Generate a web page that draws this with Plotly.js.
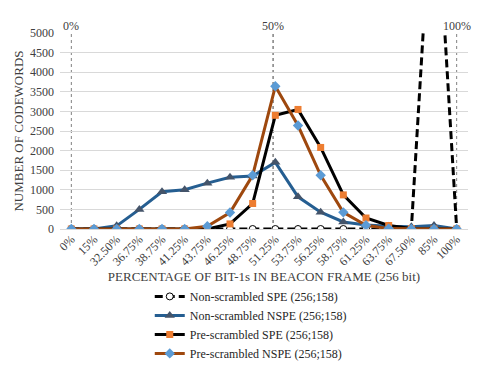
<!DOCTYPE html>
<html>
<head>
<meta charset="utf-8">
<script src="https://cdn.plot.ly/plotly-3.0.1.min.js"></script>
<style>
  body { margin: 0; background: #fff; }
  #chart { width: 485px; height: 384px; }
  #chart svg text { font-family: 'Liberation Serif', 'Times New Roman', 'DejaVu Serif', serif !important; }
</style>
</head>
<body>
<div id="chart"></div>
<script>
var categories = ['0%','15%','32.50%','36.75%','38.75%','41.25%','43.75%','46.25%','48.75%',
                  '51.25%','53.75%','56.25%','58.75%','61.25%','63.75%','67.50%','85%','100%'];

var nonScrSPE  = [0,0,0,0,0,0,0,0,0,0,0,0,0,0,0,0,9600,0];
var nonScrNSPE = [0,0,80,500,950,1000,1170,1320,1350,1700,820,430,180,100,70,55,90,0];
var preScrSPE  = [0,0,0,0,0,0,0,130,650,2900,3050,2080,870,280,90,10,0,0];
var preScrNSPE = [0,0,0,0,0,0,70,420,1370,3640,2640,1370,425,95,10,0,0,0];

var refLines = [{pos: 0, label: '0%'}, {pos: 8.9, label: '50%'}, {pos: 17, label: '100%'}];

var serif = 'Liberation Serif, Times New Roman, serif';

var data = [
  {
    x: categories, y: nonScrSPE, type: 'scatter', mode: 'lines+markers',
    name: 'Non-scrambled SPE (256;158)',
    line: {color: '#000000', width: 3, dash: '8px,4px'},
    marker: {symbol: 'circle', size: 7, color: '#ffffff', line: {color: '#000000', width: 1}}
  },
  {
    x: categories, y: nonScrNSPE, type: 'scatter', mode: 'lines+markers',
    name: 'Non-scrambled NSPE (256;158)',
    line: {color: '#255e91', width: 3},
    marker: {symbol: 'triangle-up', size: 9, color: '#44546a'}
  },
  {
    x: categories, y: preScrSPE, type: 'scatter', mode: 'lines+markers',
    name: 'Pre-scrambled SPE (256;158)',
    line: {color: '#000000', width: 3},
    marker: {symbol: 'square', size: 7, color: '#ed7d31'}
  },
  {
    x: categories, y: preScrNSPE, type: 'scatter', mode: 'lines+markers',
    name: 'Pre-scrambled NSPE (256;158)',
    line: {color: '#9e480e', width: 3},
    marker: {symbol: 'diamond', size: 8, color: '#5b9bd5'}
  }
];

var shapes = refLines.map(function (r) {
  return {
    type: 'line', xref: 'x', yref: 'y', x0: r.pos, x1: r.pos, y0: 0, y1: 5000,
    line: {color: r.pos === 8.9 ? '#404040' : '#808080', width: 1, dash: 'dot'},
    layer: 'below'
  };
});

var annotations = refLines.map(function (r) {
  return {
    xref: 'x', yref: 'paper', x: r.pos, y: 1, yanchor: 'bottom', yshift: -2,
    text: r.label, showarrow: false,
    font: {family: serif, size: 12, color: '#404040'}
  };
});

var layout = {
  width: 485, height: 384,
  margin: {l: 60, r: 17, t: 33, b: 155},
  paper_bgcolor: '#ffffff', plot_bgcolor: '#ffffff',
  font: {family: serif, color: '#404040'},
  showlegend: true,
  legend: {
    x: 0.22, y: -0.27, xanchor: 'left', yanchor: 'top',
    font: {family: serif, size: 12, color: '#262626'},
    tracegroupgap: 0, itemwidth: 30
  },
  xaxis: {
    type: 'category',
    range: [-0.5, 17.5],
    tickangle: -45,
    tickfont: {family: serif, size: 12, color: '#404040'},
    showgrid: false, showline: false, zeroline: false, ticks: '',
    title: {text: 'PERCENTAGE OF BIT-1s IN BEACON FRAME (256 bit)',
            font: {family: serif, size: 13, color: '#404040'}, standoff: 2}
  },
  yaxis: {
    range: [0, 5000],
    dtick: 500,
    tickfont: {family: serif, size: 12, color: '#404040'},
    ticklabelstandoff: 5,
    gridcolor: '#d9d9d9', zerolinecolor: '#d9d9d9', zerolinewidth: 1,
    showline: false, ticks: '',
    title: {text: 'NUMBER OF CODEWORDS', font: {family: serif, size: 13, color: '#404040'}, standoff: 3}
  },
  shapes: shapes,
  annotations: annotations
};

Plotly.newPlot('chart', data, layout, {displayModeBar: false, staticPlot: true});
</script>
</body>
</html>
